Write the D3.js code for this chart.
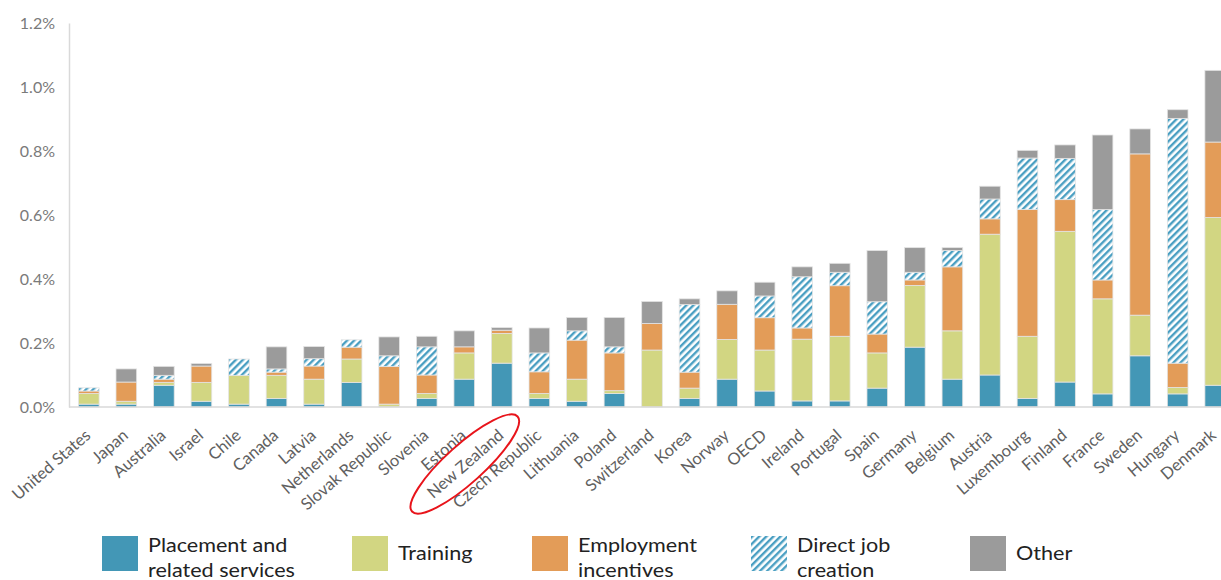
<!DOCTYPE html>
<html><head><meta charset="utf-8">
<script src="https://cdn.jsdelivr.net/npm/d3@7/dist/d3.min.js"></script>
<style>
body{margin:0;background:#fff;}
svg{display:block;font-family:Lato,"Open Sans",sans-serif;}
</style></head>
<body><svg id="c" width="1221" height="580"></svg>
<script>
const countries = ["United States","Japan","Australia","Israel","Chile","Canada","Latvia","Netherlands","Slovak Republic","Slovenia","Estonia","New Zealand","Czech Republic","Lithuania","Poland","Switzerland","Korea","Norway","OECD","Ireland","Portugal","Spain","Germany","Belgium","Austria","Luxembourg","Finland","France","Sweden","Hungary","Denmark"];
const placement = [0.009,0.009,0.068,0.018,0.009,0.027,0.009,0.077,0.000,0.027,0.087,0.137,0.027,0.018,0.042,0.000,0.027,0.087,0.050,0.019,0.019,0.059,0.187,0.087,0.100,0.027,0.078,0.041,0.160,0.041,0.068];
const training = [0.033,0.009,0.009,0.059,0.090,0.072,0.078,0.073,0.009,0.015,0.082,0.093,0.015,0.069,0.009,0.178,0.032,0.124,0.128,0.193,0.202,0.110,0.193,0.151,0.440,0.194,0.471,0.297,0.127,0.020,0.524];
const incentives = [0.008,0.060,0.010,0.051,0.000,0.010,0.041,0.037,0.118,0.058,0.019,0.010,0.068,0.122,0.118,0.083,0.050,0.110,0.101,0.035,0.158,0.059,0.017,0.200,0.048,0.396,0.099,0.059,0.504,0.076,0.236];
const directJobs = [0.010,0.000,0.012,0.000,0.051,0.010,0.023,0.023,0.033,0.088,0.000,0.000,0.059,0.029,0.019,0.000,0.211,0.000,0.068,0.160,0.042,0.101,0.024,0.051,0.062,0.161,0.129,0.220,0.000,0.765,0.000];
const other = [0.000,0.041,0.028,0.008,0.000,0.069,0.038,0.000,0.059,0.033,0.050,0.008,0.078,0.042,0.092,0.069,0.018,0.042,0.043,0.031,0.028,0.160,0.077,0.009,0.040,0.024,0.042,0.233,0.078,0.027,0.224];
const yTicks = [0,0.2,0.4,0.6,0.8,1.0,1.2];
const seriesNames = ["Placement and|related services","Training","Employment|incentives","Direct job|creation","Other"];
const seriesKeys = ["placement","training","incentives","directJobs","other"];
const colors = ["#4397b6","#d2d682","#e39c58","url(#hatch)","#9b9b9b"];
const highlight = "New Zealand";

const rows = countries.map((c,i)=>({country:c,placement:placement[i],training:training[i],incentives:incentives[i],directJobs:directJobs[i],other:other[i]}));

const svg = d3.select("#c");
const defs = svg.append("defs");
const pat = defs.append("pattern").attr("id","hatch").attr("patternUnits","userSpaceOnUse")
  .attr("width",5).attr("height",5).attr("patternTransform","rotate(45)");
pat.append("rect").attr("width",5).attr("height",5).attr("fill","#fff");
pat.append("rect").attr("width",2.4).attr("height",5).attr("fill","#4a9fc2");

const x = d3.scaleBand().domain(countries).range([70,1234]).paddingInner(0.45).paddingOuter(0.225);
const y = d3.scaleLinear().domain([0,1.2]).range([407,23]);

// y axis
const yAxis = svg.append("g").attr("transform","translate(69,0)")
  .call(d3.axisLeft(y).tickValues(yTicks).tickSize(0).tickPadding(14).tickFormat(d=>d3.format(".1f")(d)+"%"));
yAxis.select(".domain").attr("stroke","#d9d9d9").attr("stroke-width",1.5);
yAxis.selectAll("text").attr("font-size",16).attr("fill","#7a7a7a").attr("font-family","Lato,sans-serif");

const stack = d3.stack().keys(seriesKeys)(rows);
svg.append("g").selectAll("g").data(stack).join("g")
  .attr("fill",(d,i)=>colors[i])
  .selectAll("rect").data(d=>d).join("rect")
  .attr("x",d=>x(d.data.country))
  .attr("width",x.bandwidth())
  .attr("y",d=>y(d[1]))
  .attr("height",d=>Math.max(0,y(d[0])-y(d[1])))
  .attr("stroke",d=>(d[1]-d[0])>0.0001?"#e4e4e4":"none").attr("stroke-width",0.8);

// x axis
const xAxis = svg.append("g").attr("transform","translate(0,407)")
  .call(d3.axisBottom(x).tickSize(0).tickFormat(""));
xAxis.select(".domain").attr("stroke","#d9d9d9").attr("stroke-width",1.5).attr("d","M69,0H1221");

svg.append("g").selectAll("text").data(countries).join("text")
  .attr("transform",d=>`translate(${Math.min(x(d)+x.bandwidth()/2+3,1217)},437) rotate(-41)`)
  .attr("text-anchor","end").attr("font-size",16.5).attr("fill","#606060")
  .text(d=>d);

// highlight ellipse
const hx = x(highlight)+x.bandwidth()/2;
svg.append("ellipse")
  .attr("transform",`translate(${hx-37},464) rotate(-42)`)
  .attr("rx",71).attr("ry",19)
  .attr("fill","none").attr("stroke","#e8141b").attr("stroke-width",2);

// legend
const legX = [102,352,532,751,970];
const lg = svg.append("g").selectAll("g").data(seriesNames).join("g")
  .attr("transform",(d,i)=>`translate(${legX[i]},536)`);
lg.append("rect").attr("width",36).attr("height",35).attr("fill",(d,i)=>colors[i]);
lg.each(function(d){
  const lines = d.split("|");
  const t = d3.select(this).append("text").attr("font-size",20).attr("fill","#222")
    .attr("transform","translate(46,0) scale(1.08,1)");
  if(lines.length===1){
    t.append("tspan").attr("x",0).attr("y",24).text(lines[0]);
  } else {
    lines.forEach((l,j)=>t.append("tspan").attr("x",0).attr("y",16+j*25).text(l));
  }
});
</script></body></html>
